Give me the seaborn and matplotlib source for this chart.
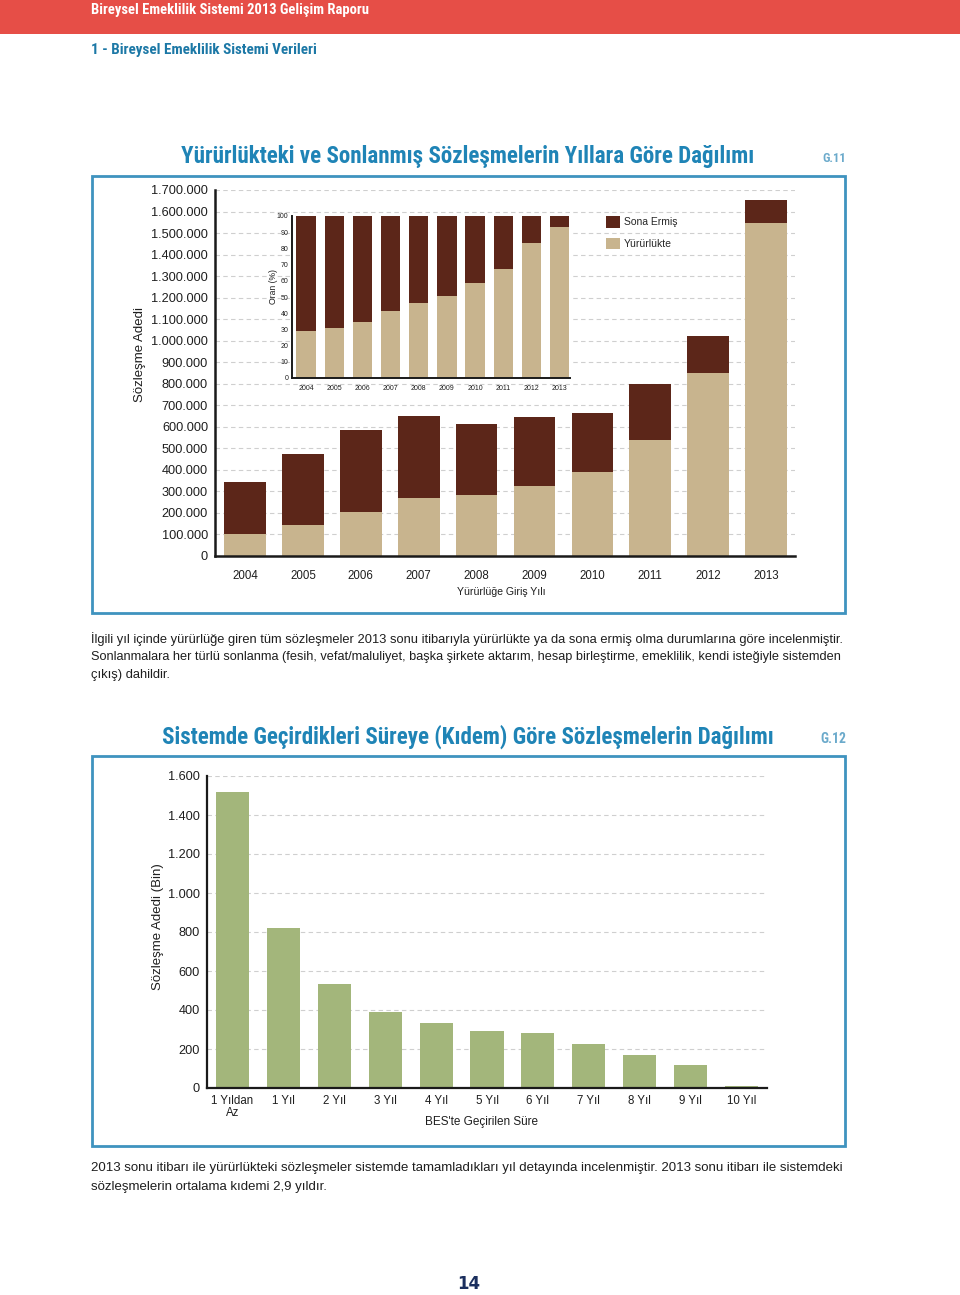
"""
Bireysel Emeklilik Sistemi 2013 - page 14: contracts by entry year (G.11)
and by time spent in the system (G.12).
"""
import matplotlib
matplotlib.use("Agg")
import matplotlib.pyplot as plt
from matplotlib.patches import Rectangle, Patch
from matplotlib.ticker import FuncFormatter, MultipleLocator
import seaborn as sns


W, H = 960, 1295

# G.11 - contracts by year of entry (count)
YEARS = ["2004", "2005", "2006", "2007", "2008", "2009", "2010", "2011", "2012", "2013"]
TOTAL = [343000, 472000, 585000, 650000, 612000, 646000, 666000, 801000, 1020000, 1655000]
ACTIVE = [100000, 146000, 204000, 269000, 285000, 325000, 392000, 537000, 852000, 1547000]

# G.12 - active contracts by seniority (thousand)
DURATION = ["1 Yıldan\nAz", "1 Yıl", "2 Yıl", "3 Yıl", "4 Yıl", "5 Yıl",
            "6 Yıl", "7 Yıl", "8 Yıl", "9 Yıl", "10 Yıl"]
COUNT = [1516, 823, 533, 391, 331, 294, 280, 227, 169, 118, 12]

BROWN = "#5C2619"
TAN = "#C8B48E"
GREEN = "#A3B67B"
RED = "#E64E47"
BLUE = "#1F84B6"
BOX = "#3F93BF"
GRID = "#CFCFCF"
TEXT = "#1E1E1E"
TITLE_FONT = ["Roboto Condensed", "Roboto", "DejaVu Sans"]

PARA1 = [
    "İlgili yıl içinde yürürlüğe giren tüm sözleşmeler 2013 sonu itibarıyla yürürlükte ya da sona ermiş olma durumlarına göre incelenmiştir.",
    "Sonlanmalara her türlü sonlanma (fesih, vefat/maluliyet, başka şirkete aktarım, hesap birleştirme, emeklilik, kendi isteğiyle sistemden",
    "çıkış) dahildir.",
]
PARA2 = [
    "2013 sonu itibarı ile yürürlükteki sözleşmeler sistemde tamamladıkları yıl detayında incelenmiştir. 2013 sonu itibarı ile sistemdeki",
    "sözleşmelerin ortalama kıdemi 2,9 yıldır.",
]

sns.set_theme(style="white")
plt.rcParams["font.family"] = ["Liberation Sans", "DejaVu Sans"]

fig = plt.figure(figsize=(W / 100, H / 100), dpi=100)
renderer = fig.canvas.get_renderer()


def px(x, y):
    return x / W, 1 - y / H


def axes_at(left, top, right, bottom, **kw):
    return fig.add_axes([left / W, 1 - bottom / H, (right - left) / W, (bottom - top) / H], **kw)


def fit_text(s, x, y, width, fs=10, **kw):
    t = fig.text(*px(x, y), s, fontsize=fs, va="center", ha="left", **kw)
    w = t.get_window_extent(renderer).width
    t.set_fontsize(fs * width / w)
    return t


def dotted_thousands(v, _pos):
    return f"{int(round(v)):,}".replace(",", ".")


def style_axis(ax, lw=1.5):
    sns.despine(ax=ax)
    for side in ("left", "bottom"):
        ax.spines[side].set_color("#1A1A1A")
        ax.spines[side].set_linewidth(lw)


bar_kw = dict(saturation=1, linewidth=0, edgecolor="none")

# ---- page furniture ----
fig.patches.append(Rectangle((0, 1 - 34 / H), 1, 34 / H, transform=fig.transFigure,
                             facecolor=RED, edgecolor="none", zorder=0))
fit_text("Bireysel Emeklilik Sistemi 2013 Gelişim Raporu", 91, 10, 279,
         family=TITLE_FONT, weight="bold", color="white")
fit_text("1 - Bireysel Emeklilik Sistemi Verileri", 91, 50, 227,
         family=TITLE_FONT, weight="bold", color="#1C78A6")

fit_text("Yürürlükteki ve Sonlanmış Sözleşmelerin Yıllara Göre Dağılımı", 181, 156, 572,
         family=TITLE_FONT, weight="bold", color=BLUE)
fit_text("G.11", 822, 158, 24, family=TITLE_FONT, weight="bold", color="#6BAACB")
fit_text("Sistemde Geçirdikleri Süreye (Kıdem) Göre Sözleşmelerin Dağılımı", 162, 737, 613,
         family=TITLE_FONT, weight="bold", color=BLUE)
fit_text("G.12", 820, 739, 26, family=TITLE_FONT, weight="bold", color="#6BAACB")

for top, bottom in ((176, 613), (756, 1146)):
    fig.patches.append(Rectangle(px(92, bottom), (845 - 92) / W, (bottom - top) / H,
                                 transform=fig.transFigure, fill=False,
                                 edgecolor=BOX, linewidth=2))

# ---- G.11 main chart ----
ax = axes_at(215, 190, 795, 556)
sns.barplot(x=YEARS, y=TOTAL, color=BROWN, width=0.72, ax=ax, **bar_kw)
sns.barplot(x=YEARS, y=ACTIVE, color=TAN, width=0.72, ax=ax, **bar_kw)
ax.set_xlim(-0.52, 9.5)
ax.set_ylim(0, 1700000)
ax.yaxis.set_major_locator(MultipleLocator(100000))
ax.yaxis.set_major_formatter(FuncFormatter(dotted_thousands))
ax.yaxis.grid(True, linestyle=(0, (4, 3)), color=GRID, linewidth=0.8)
ax.set_axisbelow(True)
style_axis(ax, lw=1.8)
ax.tick_params(axis="y", labelsize=9.2, length=0, pad=5, colors=TEXT)
ax.tick_params(axis="x", labelsize=8.3, length=0, pad=10, colors=TEXT)
ax.set_xlabel("Yürürlüğe Giriş Yılı", fontsize=7.6, color=TEXT)
ax.xaxis.set_label_coords((501 - 215) / 580, -(592 - 556) / 366)
ax.xaxis.label.set_va("center")
ax.set_ylabel("Sözleşme Adedi", fontsize=9.5, color=TEXT)
ax.yaxis.set_label_coords((140 - 215) / 580, (556 - 355) / 366)
ax.yaxis.label.set_va("center")

legend_handles = [Patch(facecolor=BROWN, edgecolor="none"),
                  Patch(facecolor=TAN, edgecolor="none")]
fig.legend(legend_handles, ["Sona Ermiş", "Yürürlükte"], loc="upper left",
           bbox_to_anchor=px(606, 216), frameon=False, fontsize=7.5,
           borderpad=0, borderaxespad=0, handlelength=1.35, handleheight=1.35,
           handletextpad=0.35, labelspacing=0.95)

# white panel behind the inset
bg = axes_at(267, 200, 580, 398)
bg.set_facecolor("white")
bg.axis("off")

# ---- G.11 inset: share still in force (%) ----
share = [a / t * 100 for a, t in zip(ACTIVE, TOTAL)]
rest = [100.0] * len(YEARS)
ins = axes_at(292, 216, 570, 378)
sns.barplot(x=YEARS, y=rest, color=BROWN, width=0.69, ax=ins, **bar_kw)
sns.barplot(x=YEARS, y=share, color=TAN, width=0.69, ax=ins, **bar_kw)
ins.set_xlim(-0.5, 9.37)
ins.set_ylim(0, 100)
ins.yaxis.set_major_locator(MultipleLocator(10))
ins.set_facecolor("white")
style_axis(ins, lw=1.4)
ins.tick_params(axis="both", labelsize=5, length=0, colors=TEXT)
ins.tick_params(axis="x", pad=5)
ins.tick_params(axis="y", pad=2.5)
ins.set_xlabel("")
ins.set_ylabel("Oran (%)", fontsize=6.2, color=TEXT)
ins.yaxis.set_label_coords((273.5 - 292) / 278, (378 - 287) / 162)
ins.yaxis.label.set_va("center")

# ---- G.11 note ----
fs = fit_text(PARA1[0], 91, 639, 754, color=TEXT).get_fontsize()
fit_text(PARA1[1], 91, 657, 754, color=TEXT)
fig.text(*px(91, 675), PARA1[2], fontsize=fs, va="center", ha="left", color=TEXT)

# ---- G.12 ----
ax2 = axes_at(207, 776, 767, 1088)
sns.barplot(x=DURATION, y=COUNT, color=GREEN, width=0.65, ax=ax2, **bar_kw)
ax2.set_xlim(-0.5, 10.5)
ax2.set_ylim(0, 1600)
ax2.yaxis.set_major_locator(MultipleLocator(200))
ax2.yaxis.set_major_formatter(FuncFormatter(dotted_thousands))
ax2.yaxis.grid(True, linestyle=(0, (4, 3)), color=GRID, linewidth=0.8)
ax2.set_axisbelow(True)
style_axis(ax2, lw=1.6)
ax2.tick_params(axis="y", labelsize=9.2, length=0, pad=5, colors=TEXT)
ax2.tick_params(axis="x", labelsize=8.3, length=0, pad=5, colors=TEXT)
for lbl in ax2.get_xticklabels():
    lbl.set_linespacing(1.0)
ax2.set_xlabel("BES'te Geçirilen Süre", fontsize=8.5, color=TEXT)
ax2.xaxis.set_label_coords((481 - 207) / 560, -(1122 - 1088) / 312)
ax2.xaxis.label.set_va("center")
ax2.set_ylabel("Sözleşme Adedi (Bin)", fontsize=9.5, color=TEXT)
ax2.yaxis.set_label_coords((158 - 207) / 560, (1088 - 927) / 312)
ax2.yaxis.label.set_va("center")

# ---- G.12 note ----
fs = fit_text(PARA2[0], 91, 1168, 754, color=TEXT).get_fontsize()
fig.text(*px(91, 1187), PARA2[1], fontsize=fs, va="center", ha="left", color=TEXT)

fig.text(*px(469, 1284), "14", fontsize=12, weight="bold", family="DejaVu Sans",
         color="#1B2F5E", ha="center", va="center")

fig.savefig("out.png", dpi=100)
